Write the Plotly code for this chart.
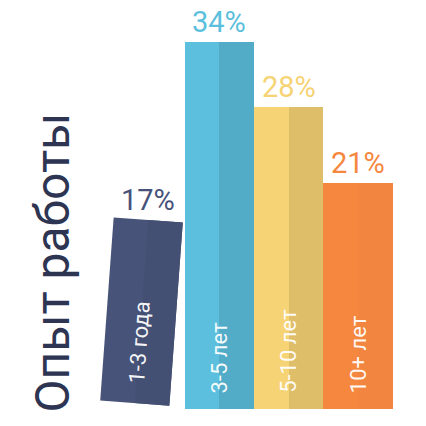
import math
import plotly.graph_objects as go

# ---- data ----
categories = ["1-3 года", "3-5 лет", "5-10 лет", "10+ лет"]
values = [17, 34, 28, 21]
pct_labels = ["17%", "34%", "28%", "21%"]
title_text = "Опыт работы"

# ---- styles ----
left_colors = ["#475378", "#5bbfdd", "#f6d374", "#f5873f"]
right_colors = ["#445073", "#52abc7", "#dfbe69", "#f2853f"]
label_colors = ["#47527a", "#5bbfdd", "#f6d374", "#f5873f"]
title_color = "#2d3552"
FONT = "Roboto"

W = H = 426
KX = 69.3        # px per x unit (bar width)
KY = 10.8        # px per percent
X0_PX = 184.6    # pixel of left edge of bar index 1
BASE_PX = 409.3  # pixel of zero line
x_range = [0.5 - X0_PX / KX, 0.5 + (W - X0_PX) / KX]
y_range = [-(H - BASE_PX) / KY, BASE_PX / KY]

fig = go.Figure()

# upright bars (indices 1..3), lighter left half and darker right half
idx = [1, 2, 3]
fig.add_trace(go.Bar(x=idx, y=[values[i] for i in idx], width=1.0, offset=-0.5,
                     marker=dict(color=[left_colors[i] for i in idx], line=dict(width=0)),
                     hoverinfo="skip", showlegend=False))
fig.add_trace(go.Bar(x=idx, y=[values[i] for i in idx], width=0.5, offset=0.0,
                     marker=dict(color=[right_colors[i] for i in idx], line=dict(width=0)),
                     hoverinfo="skip", showlegend=False))

# tilted first bar
theta = math.radians(4.2)
c, s = math.cos(theta), math.sin(theta)
cx, cy = 0.0, values[0] / 2
shift_x, shift_y = -0.122, 0.55


def rot(xd, yd):
    u = (xd - cx) * KX
    v = (yd - cy) * KY
    u2 = u * c + v * s
    v2 = -u * s + v * c
    return cx + shift_x + u2 / KX, cy + shift_y + v2 / KY


for (xa, xb), col in [((-0.5, 0.5), left_colors[0]), ((0.0, 0.5), right_colors[0])]:
    pts = [rot(xa, 0), rot(xb, 0), rot(xb, values[0]), rot(xa, values[0]), rot(xa, 0)]
    fig.add_trace(go.Scatter(x=[p[0] for p in pts], y=[p[1] for p in pts], mode="lines",
                             fill="toself", fillcolor=col, line=dict(width=0, color=col),
                             hoverinfo="skip", showlegend=False))

annotations = []
# inside labels
for i in idx:
    annotations.append(dict(x=i, y=0, xref="x", yref="y", text=categories[i], textangle=-90,
                            showarrow=False, xanchor="center", yanchor="bottom", yshift=14,
                            font=dict(family=FONT, size=22, color="rgba(255,255,255,0.95)")))
# tilted label: centre along bar axis
lx, ly = rot(0.0, (18 + 43) / KY)
annotations.append(dict(x=lx, y=ly, xref="x", yref="y", text=categories[0],
                        textangle=-90 + math.degrees(theta), showarrow=False,
                        xanchor="center", yanchor="middle",
                        font=dict(family=FONT, size=22, color="rgba(255,255,255,0.95)")))

# percent labels
for i in idx:
    annotations.append(dict(x=i, y=values[i], xref="x", yref="y", text=pct_labels[i],
                            showarrow=False, xanchor="center", yanchor="middle", yshift=20,
                            font=dict(family=FONT, size=29, color=label_colors[i])))
tx, ty = rot(0.0, values[0])
annotations.append(dict(x=tx, y=ty, xref="x", yref="y", text=pct_labels[0],
                        showarrow=False, xanchor="center", yanchor="middle", yshift=20,
                        font=dict(family=FONT, size=29, color=label_colors[0])))

# vertical title
annotations.append(dict(x=52 / W, y=1 - 262.5 / H, xref="paper", yref="paper", text=title_text,
                        textangle=-90, showarrow=False, xanchor="center", yanchor="middle",
                        font=dict(family=FONT, size=48, color=title_color)))

fig.update_layout(
    width=W, height=H, autosize=False,
    margin=dict(l=0, r=0, t=0, b=0, pad=0),
    paper_bgcolor="white", plot_bgcolor="white",
    barmode="overlay", bargap=0,
    xaxis=dict(range=x_range, visible=False, fixedrange=True),
    yaxis=dict(range=y_range, visible=False, fixedrange=True),
    annotations=annotations,
    showlegend=False,
)

fig.write_html("out.html", config={"displayModeBar": False},
               post_script="document.body.style.margin='0';document.body.style.overflow='hidden';")
